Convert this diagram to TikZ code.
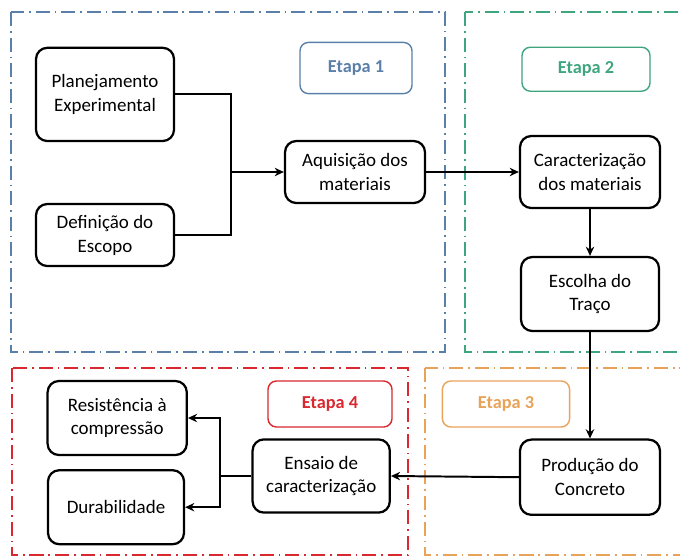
\documentclass[tikz,border=0pt]{standalone}
\usepackage{fontspec}
\setmainfont{Carlito}
\usepackage{xcolor}
\usepackage{tikz}
\usetikzlibrary{arrows.meta, positioning, calc}

\definecolor{etapaazul}{HTML}{5A7FA8}
\definecolor{etapaverde}{HTML}{3FA57E}
\definecolor{etapavermelho}{HTML}{D9282E}
\definecolor{etapalaranja}{HTML}{E9A25A}

\begin{document}
\begin{tikzpicture}[
        box/.style={
            draw,
            line width=1.6pt,
            rounded corners=8pt,
            minimum width=3.5cm,
            minimum height=1.85cm,
            align=center,
            font=\fontsize{13.5}{17}\selectfont
        },
        etapa/.style={
            draw=#1,
            line width=1pt,
            rounded corners=6pt,
            minimum width=3.1cm,
            minimum height=1.15cm,
            text=#1,
            font=\fontsize{13}{16}\selectfont\bfseries
        },
        frame/.style={
            draw=#1,
            line width=1.2pt,
            dash pattern=on 10pt off 3.5pt on 1.2pt off 3.5pt
        },
        line/.style={
            line width=1.4pt
        },
        arrow/.style={
            -{Stealth[length=2.3mm, width=2.1mm]},
            line width=1.4pt
        }
    ]

    \useasboundingbox (0,0) rectangle (17,-13.9);

    % quadros das etapas
    \draw[frame=etapaazul] (0.28,-0.3) rectangle (11.13,-8.8);
    \draw[frame=etapaverde] (11.63,-0.3) rectangle (17.3,-8.8);
    \draw[frame=etapavermelho] (0.3,-9.2) rectangle (10.2,-13.88);
    \draw[frame=etapalaranja] (10.63,-9.2) rectangle (17.3,-13.88);

    \node[etapa=etapaazul, minimum width=2.8cm, minimum height=1.28cm] (et1) at (8.9,-1.7) {Etapa 1};
    \node[etapa=etapaverde, minimum width=3.2cm, minimum height=1.1cm] (et2) at (14.65,-1.73) {Etapa 2};
    \node[etapa=etapalaranja, minimum width=3.18cm] (et3) at (12.65,-10.1) {Etapa 3};
    \node[etapa=etapavermelho] (et4) at (8.25,-10.1) {Etapa 4};

    % etapa 1
    \node[box, minimum width=3.45cm, minimum height=2.33cm] (plan) at (2.625,-2.36)
    {Planejamento\\ Experimental};

    \node[box, minimum width=3.45cm, minimum height=1.55cm] (escopo) at (2.625,-5.875)
    {Definição do\\ Escopo};

    \node[box, minimum height=1.55cm] (aquis) at (8.875,-4.3)
    {Aquisição dos\\ materiais};

    % etapa 2
    \node[box, minimum height=1.8cm] (caract) at (14.75,-4.3)
    {Caracterização\\ dos materiais};

    \node[box, minimum width=3.45cm] (traco) at (14.75,-7.35)
    {Escolha do\\ Traço};

    % etapa 3
    \node[box, minimum height=1.88cm] (prod) at (14.75,-11.93)
    {Produção do\\ Concreto};

    % etapa 4
    \node[box, minimum width=3.43cm, minimum height=1.83cm] (ensaio) at (8.03,-11.9)
    {Ensaio de\\ caracterização};

    \node[box, minimum width=3.48cm] (resist) at (2.93,-10.45)
    {Resistência à\\ compressão};

    \node[box, minimum width=3.4cm] (durab) at (2.9,-12.68)
    {Durabilidade};

    \coordinate (junta1) at (5.78,-4.3);
    \coordinate (junta2) at (5.5,-11.9);

    \draw[line] (plan.east) -| (junta1);
    \draw[line] (escopo.east) -| (junta1);
    \draw[arrow] (junta1) -- (aquis.west);
    \draw[arrow] (aquis.east) -- (caract.west);
    \draw[arrow] (caract.south) -- (traco.north);
    \draw[arrow] (traco.south) -- (prod.north);
    \draw[arrow] (prod.west) -- (ensaio.east);
    \draw[line] (ensaio.west) -- (junta2);
    \draw[arrow] (junta2) |- (resist.east);
    \draw[arrow] (junta2) |- (durab.east);

\end{tikzpicture}
\end{document}
